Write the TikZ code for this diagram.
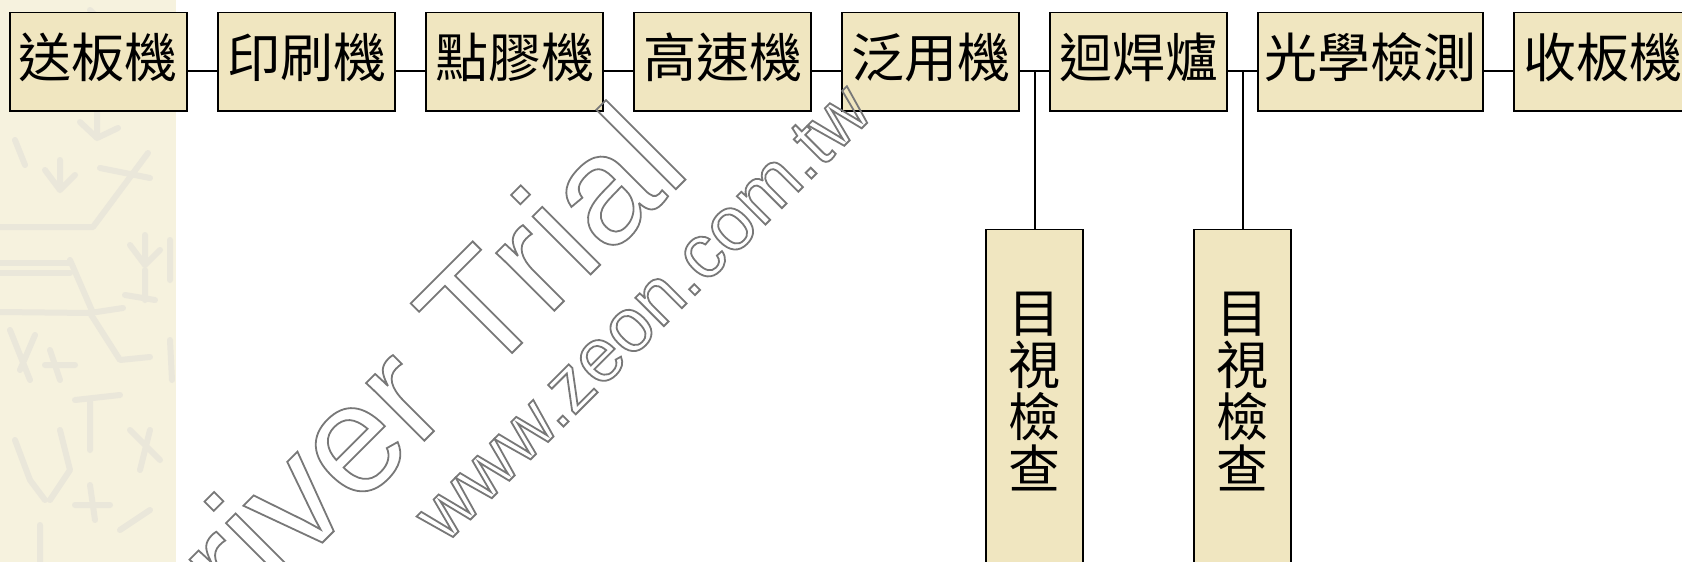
\documentclass[tikz,border=0pt]{standalone}
\usepackage{fontspec}
\newfontfamily\cjk{Noto Sans CJK TC}
\newfontfamily\wmfont{Liberation Sans}
\definecolor{boxfill}{RGB}{240,230,192}
\definecolor{stripfill}{RGB}{246,242,222}
\definecolor{stripline}{RGB}{234,231,218}
\definecolor{wmgray}{RGB}{120,120,120}
\newcommand\wmoutline[1]{\special{pdf:literal direct q 1 Tr 1.8 w}#1\special{pdf:literal direct Q}}
\tikzset{
  stepbox/.style={draw=black, line width=1.5pt, fill=boxfill, rectangle, inner sep=0pt},
  hbox/.style={stepbox, minimum width=177pt, minimum height=98.5pt},
  vbox/.style={stepbox, minimum width=97pt, minimum height=380pt},
  hlabel/.style={inner sep=0pt, font=\cjk\fontsize{53pt}{53pt}\selectfont},
  vlabel/.style={inner sep=0pt, align=center, font=\cjk\fontsize{52pt}{52pt}\selectfont},
  conn/.style={draw=black, line width=1.6pt},
  wm/.style={inner sep=0pt, text=wmgray, rotate=45}
}
\begin{document}
\begin{tikzpicture}[x=1pt,y=-1pt]
\useasboundingbox (0,0) rectangle (1682,562);
\clip (0,0) rectangle (1682,562);
% left decorative strip
\fill[stripfill] (0,0) rectangle (176,562);
\begin{scope}[draw=stripline, line width=6pt, line cap=round, line join=round]
\draw (0,227) -- (93,227) -- (148,153);
\draw (100,168) -- (150,178);
\draw (0,263) -- (70,263);
\draw (0,273) -- (70,273);
\draw (70,260) -- (93,313);
\draw (0,312) -- (90,313) -- (120,360) -- (150,357);
\draw (90,313) -- (123,308);
\draw (97,113) -- (97,138) (80,122) -- (97,138) -- (118,128);
\draw (60,160) -- (60,190) (45,170) -- (60,190) -- (75,175);
\draw (15,140) -- (25,165);
\draw (145,235) -- (145,265) (130,245) -- (145,265) -- (160,250);
\draw (145,270) -- (145,300) (125,295) -- (155,300);
\draw (10,330) -- (30,380) (35,335) -- (20,370);
\draw (50,350) -- (60,380) (45,365) -- (75,365);
\draw (75,400) -- (120,395) (90,400) -- (90,450);
\draw (15,440) -- (30,480) -- (45,500) (60,430) -- (70,470) -- (50,500);
\draw (130,430) -- (160,460) (150,430) -- (140,470);
\draw (90,485) -- (95,520) (75,505) -- (110,505);
\draw (40,525) -- (40,562) (120,530) -- (150,510);
\draw (30,20) -- (40,50) (90,10) -- (120,40) (150,20) -- (160,60);
\draw (170,240) -- (170,280) (170,340) -- (172,380);
\end{scope}
% main flow boxes
\node[hbox] (b1) at (98.5,61.75) {};
\node[hbox] (b2) at (306.5,61.75) {};
\node[hbox] (b3) at (514.5,61.75) {};
\node[hbox] (b4) at (722.5,61.75) {};
\node[hbox] (b5) at (930.5,61.75) {};
\node[hbox] (b6) at (1138.5,61.75) {};
\node[hbox, minimum width=225pt] (b7) at (1370.5,61.75) {};
\node[hbox] (b8) at (1602.5,61.75) {};
% inspection boxes
\node[vbox] (vA) at (1034.7,419.3) {};
\node[vbox] (vB) at (1242.7,419.3) {};
% labels
\node[hlabel] (t1) at (98.5,57) {送板機};
\node[hlabel] (t2) at (306.5,57) {印刷機};
\node[hlabel] (t3) at (514.5,57) {點膠機};
\node[hlabel] (t4) at (722.5,57) {高速機};
\node[hlabel] (t5) at (930.5,57) {泛用機};
\node[hlabel] (t6) at (1138.5,57) {迴焊爐};
\node[hlabel] (t7) at (1370.5,57) {光學檢測};
\node[hlabel] (t8) at (1602.5,57) {收板機};
\node[vlabel] (tA) at (1034.7,391.5) {目\\視\\檢\\查};
\node[vlabel] (tB) at (1242.7,391.5) {目\\視\\檢\\查};
% connectors
\foreach \a/\b in {b1/b2,b2/b3,b3/b4,b4/b5,b5/b6,b6/b7,b7/b8}
  \draw[conn] ([yshift=-9.25pt]\a.east) -- ([yshift=-9.25pt]\b.west);
\coordinate (j1) at ([yshift=-9.25pt]b5.east);
\coordinate (j2) at ([yshift=-9.25pt]b6.east);
\draw[conn] (vA.north) -- (vA.north |- j1);
\draw[conn] (vB.north) -- (vB.north |- j2);
% watermark
\node[wm, anchor=base east, font=\wmfont\fontsize{155pt}{155pt}\selectfont] (wm1) at (693,172) {\wmoutline{PDF Driver Trial}};
\node[wm, anchor=base west, font=\wmfont\fontsize{76pt}{76pt}\selectfont] (wm2) at (445,545) {\wmoutline{www.zeon.com.tw}};
\end{tikzpicture}
\end{document}
